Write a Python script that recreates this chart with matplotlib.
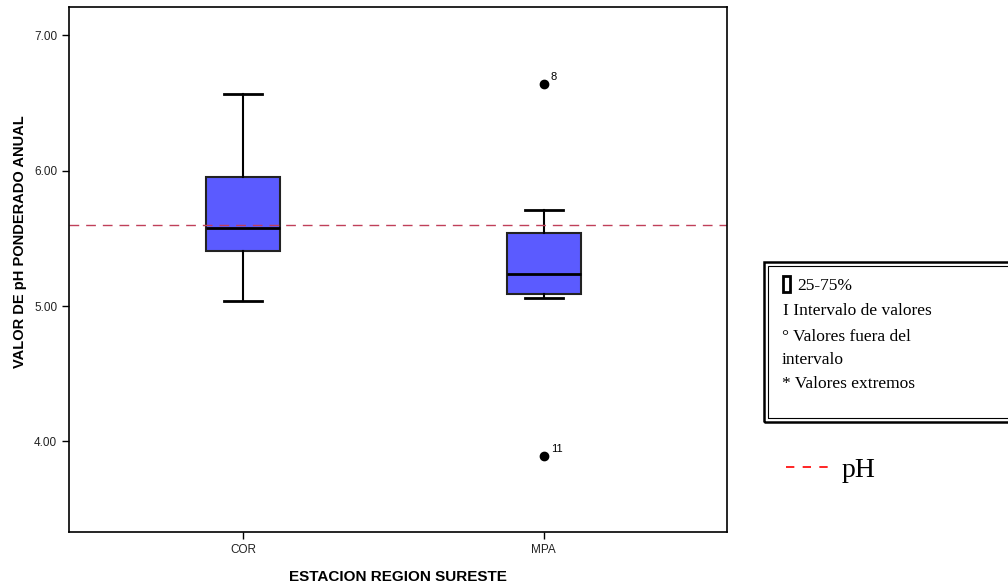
import numpy as np
import matplotlib.pyplot as plt
from matplotlib.patches import Rectangle
from matplotlib.lines import Line2D

# datos
estaciones = ['COR', 'MPA']
q1 = [5.41, 5.09]
mediana = [5.58, 5.24]
q3 = [5.95, 5.54]
bigote_inf = [5.04, 5.06]
bigote_sup = [6.57, 5.71]
atipicos = [[], [6.64, 3.89]]
etiquetas_atipicos = [[], ['8', '11']]
ph_ref = 5.6

fig = plt.figure(figsize=(10.08, 5.88), dpi=100)
ax = fig.add_axes([69 / 1008, 1 - 532 / 588, 658 / 1008, 525 / 588])

stats = []
for i in range(len(estaciones)):
    stats.append({'med': mediana[i], 'q1': q1[i], 'q3': q3[i],
                  'whislo': bigote_inf[i], 'whishi': bigote_sup[i],
                  'fliers': atipicos[i], 'label': estaciones[i]})

pos = np.arange(1, len(estaciones) + 1)
ax.bxp(stats, positions=pos, widths=0.245, patch_artist=True,
       boxprops=dict(facecolor='#5b5bff', edgecolor='#222222', linewidth=1.5),
       medianprops=dict(color='black', linewidth=2),
       whiskerprops=dict(color='black', linewidth=1.5),
       capprops=dict(color='black', linewidth=2),
       capwidths=0.125,
       flierprops=dict(marker='o', markerfacecolor='black', markeredgecolor='black', markersize=6))

# etiquetas de los atipicos
for i in range(len(estaciones)):
    for v, t in zip(atipicos[i], etiquetas_atipicos[i]):
        ax.annotate(t, (pos[i], v), xytext=(5, 3), textcoords='offset points',
                    fontsize=8, family='Liberation Sans')

ax.axhline(ph_ref, color='#c0405a', linestyle=(0, (7, 5)), linewidth=1.0)

ax.set_xlim(0.42, 2.61)
ax.set_ylim(3.33, 7.21)
ax.set_yticks([4, 5, 6, 7])
ax.set_yticklabels(['4.00', '5.00', '6.00', '7.00'])
ax.tick_params(axis='both', direction='out', length=5, width=1, labelsize=8.5, labelcolor='#222222')
for lab in ax.get_xticklabels() + ax.get_yticklabels():
    lab.set_family('Liberation Sans')
for s in ax.spines.values():
    s.set_linewidth(1.2)

ax.set_xlabel('ESTACION REGION SURESTE', fontsize=11, fontweight='bold', family='Liberation Sans', labelpad=10)
ax.set_ylabel('VALOR DE pH PONDERADO ANUAL', fontsize=10.5, fontweight='bold', family='Liberation Sans')
ax.yaxis.set_label_coords(-0.064, 0.554)

# leyenda de la derecha
def fx(px):
    return px / 1008


def fy(py):
    return 1 - py / 588


fig.patches.append(Rectangle((fx(764), fy(422)), fx(260), 160 / 588, transform=fig.transFigure,
                             fill=False, edgecolor='black', linewidth=1.8))
fig.patches.append(Rectangle((fx(768), fy(418)), fx(260), 152 / 588, transform=fig.transFigure,
                             fill=False, edgecolor='black', linewidth=0.8))
fig.patches.append(Rectangle((fx(783), fy(292)), fx(7), 16 / 588, transform=fig.transFigure,
                             fill=False, edgecolor='black', linewidth=2))

serif = 'Liberation Serif'
fig.text(fx(797), fy(290), '25-75%', fontsize=12.5, family=serif, va='baseline')
fig.text(fx(783), fy(315), 'I Intervalo de valores', fontsize=12.5, family=serif, va='baseline')
fig.text(fx(782), fy(341), '° Valores fuera del', fontsize=12.5, family=serif, va='baseline')
fig.text(fx(782), fy(364), 'intervalo', fontsize=12.5, family=serif, va='baseline')
fig.text(fx(782), fy(388), '* Valores extremos', fontsize=12.5, family=serif, va='baseline')

fig.lines.append(Line2D([fx(786), fx(834)], [fy(467), fy(467)], transform=fig.transFigure,
                        color='red', linestyle=(0, (5, 5)), linewidth=1.2))
fig.text(fx(842), fy(477), 'pH', fontsize=20, family=serif, va='baseline')

fig.savefig('out.png', dpi=100)
